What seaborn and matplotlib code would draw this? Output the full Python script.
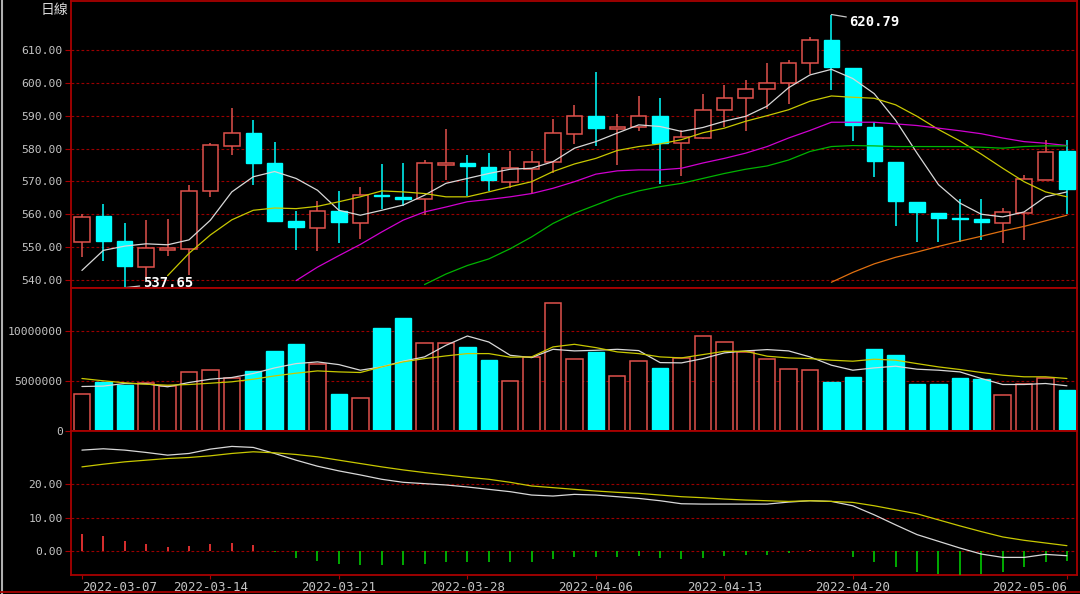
import numpy as np
import pandas as pd
import matplotlib
matplotlib.use("Agg")
import matplotlib.pyplot as plt
import seaborn as sns
from matplotlib.lines import Line2D

# ---------------------------------------------------------------- data
opens = [551.4, 559.4, 551.9, 543.9, 549.2, 549.5, 567.0, 580.9, 584.7, 575.5,
         557.9, 555.9, 561.0, 557.3, 566.0, 565.3, 564.5, 574.9, 575.5, 574.5,
         569.9, 573.7, 576.0, 584.5, 589.8, 585.9, 586.5, 589.8, 581.6, 583.2,
         591.8, 595.4, 598.0, 599.8, 605.9, 612.9, 604.5, 586.7, 575.9, 563.8,
         560.5, 558.9, 558.5, 557.3, 560.5, 570.4, 579.1]
highs = [560.0, 563.1, 557.3, 558.2, 558.6, 568.9, 581.6, 592.3, 588.8, 582.1,
         561.0, 563.9, 567.1, 568.4, 575.3, 575.5, 576.5, 586.0, 577.9, 578.6,
         579.1, 579.1, 589.1, 593.3, 603.4, 590.6, 595.9, 595.5, 585.7, 596.7,
         599.2, 601.0, 606.1, 606.9, 613.8, 620.79, 604.6, 588.1, 575.9, 563.8,
         560.5, 564.6, 564.5, 562.0, 571.9, 582.7, 582.5]
lows = [547.1, 545.7, 537.65, 540.3, 547.4, 541.6, 565.1, 578.0, 568.9, 557.7,
        549.0, 548.8, 551.2, 552.6, 561.7, 562.6, 559.7, 570.4, 565.5, 567.1,
        567.9, 566.6, 572.4, 581.4, 580.9, 575.0, 585.2, 569.1, 571.7, 582.9,
        586.7, 585.2, 592.0, 593.7, 602.6, 597.8, 582.3, 571.3, 556.3, 551.7,
        551.7, 551.7, 552.2, 551.3, 552.2, 570.4, 560.0]
closes = [559.2, 552.0, 544.2, 549.6, 549.6, 567.2, 581.0, 584.7, 575.5, 557.9,
          556.2, 561.0, 557.7, 566.0, 565.4, 564.7, 575.5, 575.5, 574.7, 570.4,
          574.0, 576.0, 584.7, 589.8, 586.2, 586.6, 589.8, 581.8, 583.4, 591.8,
          595.4, 598.2, 599.8, 605.9, 612.9, 604.9, 587.1, 576.2, 564.1, 560.6,
          558.9, 558.6, 557.7, 560.7, 570.6, 579.0, 567.6]

ma5 = [542.9, 549.0, 550.3, 551.0, 550.7, 552.2, 558.2, 566.8, 571.4, 573.0,
       570.9, 567.3, 561.2, 559.7, 561.2, 562.8, 565.8, 569.4, 570.9, 572.4,
       573.7, 574.0, 576.0, 580.1, 582.1, 584.7, 587.2, 586.7, 585.2, 586.4,
       588.3, 589.8, 592.9, 598.5, 602.4, 604.1, 601.3, 596.7, 588.6, 578.6,
       569.0, 563.4, 560.0, 559.2, 560.7, 565.3, 566.8]
ma10 = [None, None, None, None, 541.3, 548.1, 553.7, 558.3, 561.2, 561.9,
        561.7, 562.4, 563.8, 565.3, 567.1, 566.8, 566.3, 565.3, 565.3, 566.8,
        568.4, 569.9, 573.0, 575.3, 577.0, 579.4, 580.6, 581.4, 582.7, 584.8,
        586.2, 588.3, 590.0, 591.8, 594.4, 596.0, 595.6, 595.3, 593.3, 589.8,
        585.8, 582.3, 578.3, 574.0, 569.9, 566.8, 565.3]
ma20 = [None] * 10 + [539.8, 543.9, 547.4, 550.8, 554.6, 558.2, 560.7, 562.2, 563.8, 564.5,
                      565.3, 566.3, 567.9, 569.9, 572.2, 573.2, 573.5, 573.5, 574.0, 575.6,
                      577.0, 578.6, 580.6, 583.2, 585.5, 588.0, 588.0, 588.0, 587.5, 587.0,
                      586.2, 585.4, 584.5, 583.2, 582.1, 581.6, 580.9]
ma30 = [None] * 16 + [538.6, 541.8, 544.4, 546.4, 549.5, 553.1, 557.2, 560.3, 562.8, 565.3,
                      567.1, 568.4, 569.4, 570.9, 572.4, 573.7, 574.7, 576.5, 579.1, 580.6,
                      580.9, 580.8, 580.6, 580.6, 580.6, 580.6, 580.4, 580.1, 580.6, 580.8,
                      580.8]
ma60 = [None] * 35 + [539.3, 542.3, 544.9, 546.9, 548.5, 550.2, 551.8, 553.3, 554.9, 556.3,
                      558.0, 559.7]

volume = [3690000, 4920000, 4580000, 4850000, 4520000, 5910000, 6150000, 5320000, 6050000, 7970000,
          8740000, 6680000, 3690000, 3260000, 10330000, 11300000, 8800000, 8800000, 8410000, 7110000,
          5050000, 7410000, 12790000, 7240000, 7910000, 5510000, 7010000, 6280000, 7310000, 9470000,
          8940000, 7910000, 7240000, 6250000, 6150000, 4880000, 5420000, 8240000, 7570000, 4680000,
          4680000, 5320000, 5180000, 3590000, 4680000, 5320000, 4150000]
vol_ma5 = [4450000, 4490000, 4750000, 4720000, 4420000, 4850000, 5180000, 5350000, 5750000, 6310000,
           6740000, 6910000, 6640000, 6080000, 6410000, 6980000, 7410000, 8570000, 9500000, 8900000,
           7570000, 7340000, 8170000, 8010000, 8070000, 8170000, 8040000, 6840000, 6810000, 7240000,
           7810000, 8010000, 8140000, 8010000, 7410000, 6580000, 6080000, 6310000, 6480000, 6180000,
           6080000, 5910000, 5250000, 4650000, 4650000, 4750000, 4520000]
vol_ma10 = [5250000, 5020000, 4820000, 4680000, 4580000, 4650000, 4780000, 4920000, 5180000, 5510000,
            5780000, 6010000, 5910000, 5850000, 6410000, 6910000, 7240000, 7510000, 7740000, 7740000,
            7380000, 7410000, 8410000, 8670000, 8340000, 7910000, 7740000, 7410000, 7310000, 7640000,
            7970000, 7970000, 7480000, 7310000, 7240000, 7080000, 6980000, 7180000, 7080000, 6740000,
            6410000, 6150000, 5850000, 5580000, 5420000, 5420000, 5250000]

dif = [30.1, 30.5, 30.1, 29.4, 28.6, 29.1, 30.4, 31.2, 30.9, 29.1,
       27.1, 25.3, 23.9, 22.7, 21.4, 20.5, 20.1, 19.7, 19.1, 18.4,
       17.7, 16.7, 16.4, 16.9, 16.7, 16.2, 15.7, 15.0, 14.1, 14.0,
       14.0, 14.0, 14.0, 14.6, 15.0, 14.8, 13.5, 10.8, 7.8, 4.9,
       2.9, 0.9, -0.9, -1.9, -1.9, -1.0, -1.4]
dea = [25.1, 25.9, 26.6, 27.1, 27.6, 27.9, 28.4, 29.1, 29.6, 29.3,
       28.8, 28.1, 27.1, 26.1, 25.1, 24.2, 23.4, 22.7, 22.0, 21.4,
       20.5, 19.4, 18.9, 18.4, 17.9, 17.5, 17.2, 16.7, 16.2, 15.9,
       15.5, 15.2, 15.0, 14.8, 15.0, 14.8, 14.5, 13.5, 12.3, 11.1,
       9.3, 7.5, 5.8, 4.2, 3.2, 2.4, 1.6]
macd_hist = [5.1, 4.6, 3.1, 2.1, 1.2, 1.4, 2.1, 2.4, 1.7, -0.4,
             -2.1, -3.1, -3.9, -4.1, -4.1, -4.1, -3.8, -3.4, -3.2, -3.3,
             -3.3, -3.3, -2.4, -1.8, -1.8, -1.9, -1.6, -2.1, -2.4, -2.1,
             -1.6, -1.2, -1.2, -0.6, 0.2, 0.0, -1.8, -3.4, -4.9, -6.2,
             -7.0, -7.2, -6.8, -6.2, -4.9, -3.3, -3.1]

date_ticks = [0, 6, 12, 18, 24, 30, 36, 46]
date_labels = ["2022-03-07", "2022-03-14", "2022-03-21", "2022-03-28",
               "2022-04-06", "2022-04-13", "2022-04-20", "2022-05-06"]
price_ticks = [540, 550, 560, 570, 580, 590, 600, 610]
vol_ticks = [0, 5000000, 10000000]
macd_ticks = [0, 10, 20]

# ---------------------------------------------------------------- style
sns.set_style("dark", {"axes.facecolor": "black", "figure.facecolor": "black"})
plt.rcParams['font.family'] = ['DejaVu Sans Mono', 'Noto Sans CJK TC']

RED = '#e0524c'
CYAN = '#00ffff'
FRAME = '#a80000'
GRID = '#9a0000'
TXT = '#c4c4c4'

df = pd.DataFrame({'idx': np.arange(len(opens)), 'open': opens, 'high': highs,
                   'low': lows, 'close': closes, 'vol': volume})
df['up'] = df['close'] >= df['open']
up = df[df['up']]
dn = df[~df['up']]

fig = plt.figure(figsize=(10.8, 5.94), dpi=100)
L, W = 71 / 1080, 1006 / 1080
ax1 = fig.add_axes([L, 306 / 594, W, 287 / 594])
ax2 = fig.add_axes([L, 163 / 594, W, 143 / 594], sharex=ax1)
ax3 = fig.add_axes([L, 19 / 594, W, 144 / 594], sharex=ax1)

# ---------------------------------------------------------------- price panel
for part, col in ((up, RED), (dn, CYAN)):
    top = part[['open', 'close']].max(axis=1)
    bot = part[['open', 'close']].min(axis=1)
    ax1.vlines(part['idx'], top, part['high'], color=col, lw=1.1, zorder=2)
    ax1.vlines(part['idx'], part['low'], bot, color=col, lw=1.1, zorder=2)
ax1.bar(up['idx'], up['close'] - up['open'], bottom=up['open'], width=0.72,
        facecolor='black', edgecolor=RED, lw=1.1, zorder=3)
ax1.bar(dn['idx'], dn['open'] - dn['close'], bottom=dn['close'], width=0.72,
        facecolor=CYAN, edgecolor=CYAN, lw=1.0, zorder=3)

ma_lines = [(ma5, '#d8d8d8'), (ma10, '#c8c800'), (ma20, '#d000d0'),
            (ma30, '#00b400'), (ma60, '#e07010')]
for vals, col in ma_lines:
    sns.lineplot(x=df['idx'], y=np.array(vals, dtype=float), ax=ax1, color=col,
                 lw=0.9, errorbar=None, zorder=4)

ax1.annotate("537.65", xy=(2, 537.65), xytext=(2.85, 539.1), color='white',
             fontsize=10, fontweight='bold', va='center', ha='left', zorder=6,
             arrowprops=dict(arrowstyle='-', color='#c8c8c8', lw=0.9, shrinkA=0, shrinkB=0))
ax1.annotate("620.79", xy=(35, 620.79), xytext=(35.85, 618.6), color='white',
             fontsize=10, fontweight='bold', va='center', ha='left', zorder=6,
             arrowprops=dict(arrowstyle='-', color='#c8c8c8', lw=0.9, shrinkA=0, shrinkB=0))

ax1.set_ylim(537.55, 624.9)
ax1.set_yticks(price_ticks)
ax1.set_yticklabels([f"{v:.2f}" for v in price_ticks])

# ---------------------------------------------------------------- volume panel
ax2.bar(up['idx'], up['vol'], width=0.77, facecolor='black', edgecolor=RED, lw=1.1, zorder=2)
ax2.bar(dn['idx'], dn['vol'], width=0.77, facecolor=CYAN, edgecolor=CYAN, lw=1.0, zorder=2)
sns.lineplot(x=df['idx'], y=vol_ma5, ax=ax2, color='#d8d8d8', lw=0.9, errorbar=None, zorder=4)
sns.lineplot(x=df['idx'], y=vol_ma10, ax=ax2, color='#c8c800', lw=0.9, errorbar=None, zorder=4)
ax2.set_ylim(0, 14300000)
ax2.set_yticks(vol_ticks)
ax2.set_yticklabels([str(v) for v in vol_ticks])

# ---------------------------------------------------------------- MACD panel
hist = np.array(macd_hist)
pos = hist > 0
ax3.vlines(df['idx'][pos], 0, hist[pos], color='#ff3838', lw=1.2, zorder=3)
ax3.vlines(df['idx'][~pos], 0, hist[~pos], color='#00c800', lw=1.2, zorder=3)
sns.lineplot(x=df['idx'], y=dif, ax=ax3, color='#d8d8d8', lw=0.9, errorbar=None, zorder=4)
sns.lineplot(x=df['idx'], y=dea, ax=ax3, color='#c8c800', lw=0.9, errorbar=None, zorder=4)
ax3.set_ylim(-7.15, 35.8)
ax3.set_yticks(macd_ticks)
ax3.set_yticklabels([f"{v:.2f}" for v in macd_ticks])

ax3.set_xlim(-0.51, 46.47)
ax3.set_xticks(date_ticks)
ax3.set_xticklabels(date_labels)
labels = ax3.get_xticklabels()
labels[0].set_ha('left')
labels[-1].set_ha('right')

# ---------------------------------------------------------------- common frame styling
for ax in (ax1, ax2, ax3):
    ax.set_facecolor('black')
    ax.set_xlabel('')
    ax.set_ylabel('')
    ax.grid(False)
    ax.grid(axis='y', linestyle=(0, (2.5, 2)), color=GRID, lw=0.8, zorder=1)
    for s in ax.spines.values():
        s.set_visible(True)
        s.set_color(FRAME)
        s.set_linewidth(1.3)
    ax.tick_params(axis='y', left=True, length=4, width=0.8, color=FRAME,
                   labelcolor=TXT, labelsize=8.2, pad=2)
    ax.tick_params(axis='x', bottom=False, labelbottom=False)
ax3.tick_params(axis='x', bottom=True, labelbottom=True, length=3, width=0.8,
                color=FRAME, labelcolor=TXT, labelsize=9, pad=1.5)

fig.text(68 / 1080, 1 - 10 / 594, "日線", color='#d8d8d8', fontsize=10,
         ha='right', va='center', family=['Noto Sans CJK TC', 'DejaVu Sans'])
fig.add_artist(Line2D([1.5 / 1080, 1.5 / 1080], [0, 1], color='#b0b0b0', lw=1.5,
                      transform=fig.transFigure))
fig.add_artist(Line2D([0, 1], [2 / 594, 2 / 594], color=FRAME, lw=1.3,
                      transform=fig.transFigure))

fig.savefig("out.png", dpi=100, facecolor='black')
